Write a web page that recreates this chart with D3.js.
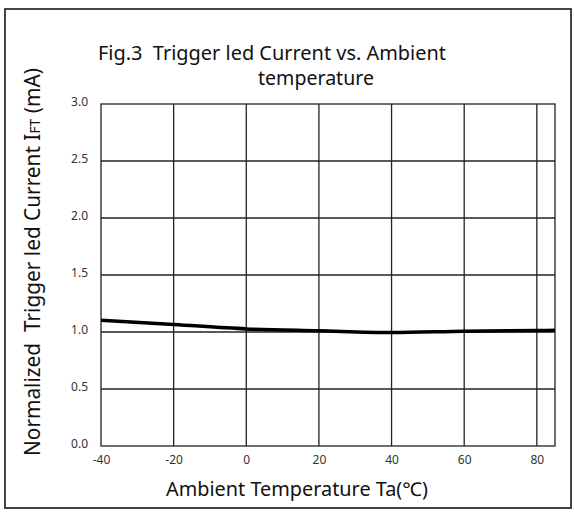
<!DOCTYPE html>
<html>
<head>
<meta charset="utf-8">
<script src="https://cdn.jsdelivr.net/npm/d3@7"></script>
<style>
  body { margin: 0; background: #fff; }
  svg text { font-family: "Noto Sans", "Open Sans", sans-serif; }
</style>
</head>
<body>
<div id="chart"></div>
<script>
'use strict';

// values
let temps = [-40, -20, 0, 20, 40, 60, 80, 85];
let ift_norm = [1.104, 1.066, 1.027, 1.01, 0.995, 1.007, 1.013, 1.015];
let x_ticks = [-40, -20, 0, 20, 40, 60, 80];
let y_ticks = [0, 0.5, 1.0, 1.5, 2.0, 2.5, 3.0];

let width = 574, height = 513;
let margin = {left: 101, right: 19, top: 104, bottom: 67};

var svg = d3.select("#chart")
    .append("svg")
    .attr("width", width)
    .attr("height", height);

// outer frame
svg.append("rect")
    .attr("x", 5).attr("y", 9)
    .attr("width", 566).attr("height", 499)
    .attr("fill", "none")
    .attr("stroke", "#444")
    .attr("stroke-width", 2);

var x = d3.scaleLinear().domain([-40, 85]).range([margin.left, width - margin.right]);
var y = d3.scaleLinear().domain([0, 3]).range([height - margin.bottom, margin.top]);

var grid = svg.append("g").attr("stroke", "#222").attr("stroke-width", 1.3);

grid.selectAll("line.v")
    .data(x_ticks.slice(1))
    .enter().append("line")
    .attr("x1", function(d) { return x(d); })
    .attr("x2", function(d) { return x(d); })
    .attr("y1", y(0)).attr("y2", y(3));

grid.selectAll("line.h")
    .data(y_ticks.slice(1, -1))
    .enter().append("line")
    .attr("y1", function(d) { return y(d); })
    .attr("y2", function(d) { return y(d); })
    .attr("x1", x(-40)).attr("x2", x(85));

grid.append("rect")
    .attr("x", x(-40)).attr("y", y(3))
    .attr("width", x(85) - x(-40))
    .attr("height", y(0) - y(3))
    .attr("fill", "none");

// tick labels via axes, no domain / tick lines
var xAxis = svg.append("g")
    .attr("transform", "translate(0," + y(0) + ")")
    .call(d3.axisBottom(x).tickValues(x_ticks).tickSize(0).tickPadding(9).tickFormat(function(d) { return String(d); }));
var yAxis = svg.append("g")
    .attr("transform", "translate(" + (x(-40) - 13) + ",0)")
    .call(d3.axisLeft(y).tickValues(y_ticks).tickSize(0).tickPadding(0).tickFormat(d3.format(".1f")));

[xAxis, yAxis].forEach(function(a) {
    a.select(".domain").remove();
    a.selectAll("text")
        .attr("fill", "#333")
        .style("font-size", "12px")
        .style("font-family", "\"Noto Sans\", sans-serif");
});
yAxis.selectAll("text").attr("dy", "0.1em");

// curve
var line = d3.line()
    .x(function(d, i) { return x(temps[i]); })
    .y(function(d) { return y(d); })
    .curve(d3.curveMonotoneX);

svg.append("path")
    .datum(ift_norm)
    .attr("d", line)
    .attr("fill", "none")
    .attr("stroke", "#000")
    .attr("stroke-width", 3.5);

// titles
svg.append("text")
    .attr("x", 98).attr("y", 60)
    .attr("font-size", 20).attr("fill", "#111")
    .attr("xml:space", "preserve")
    .attr("textLength", 348).attr("lengthAdjust", "spacingAndGlyphs")
    .text("Fig.3  Trigger led Current vs. Ambient");
svg.append("text")
    .attr("x", 258).attr("y", 85)
    .attr("font-size", 19).attr("fill", "#111")
    .attr("textLength", 116).attr("lengthAdjust", "spacingAndGlyphs")
    .text("temperature");

svg.append("text")
    .attr("x", 166).attr("y", 496)
    .attr("font-size", 19).attr("fill", "#111")
    .attr("textLength", 262).attr("lengthAdjust", "spacingAndGlyphs")
    .text("Ambient Temperature Ta(\u2103)");

var ylab = svg.append("text")
    .attr("transform", "translate(40,456) rotate(-90)")
    .attr("font-size", 21).attr("fill", "#111")
    .attr("xml:space", "preserve")
    .attr("textLength", 388).attr("lengthAdjust", "spacingAndGlyphs");
ylab.append("tspan").text("Normalized  Trigger led Current I");
ylab.append("tspan").attr("font-size", 14).text("FT");
ylab.append("tspan").text(" (mA)");
</script>
</body>
</html>
